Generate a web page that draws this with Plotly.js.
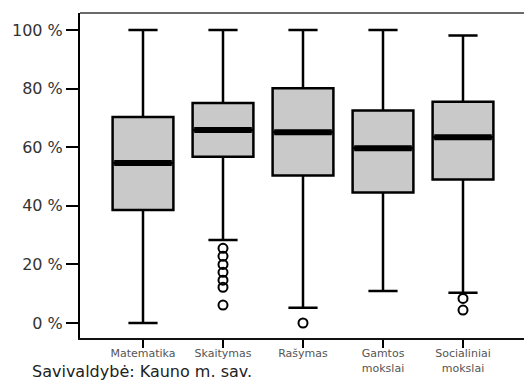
<!DOCTYPE html>
<html>
<head>
<meta charset="utf-8">
<script src="https://cdn.plot.ly/plotly-3.0.1.min.js"></script>
<style>html,body{margin:0;padding:0;background:#fff;overflow:hidden;}</style>
</head>
<body>
<div id="chart" style="width:524px;height:381px;"></div>
<script>
// Data (percent)
const categories = ["Matematika", "Skaitymas", "Rašymas", "Gamtos<br>mokslai", "Socialiniai<br>mokslai"];
const lowerWhisker = [0, 28.3, 5.2, 10.9, 10.3];
const q1 = [38.6, 56.7, 50.3, 44.5, 49.0];
const median = [54.6, 65.9, 65.1, 59.6, 63.4];
const q3 = [70.3, 75.1, 80.1, 72.5, 75.5];
const upperWhisker = [100, 100, 100, 100, 98.1];
const outlierCategory = ["Skaitymas", "Skaitymas", "Skaitymas", "Skaitymas", "Skaitymas", "Skaitymas", "Skaitymas", "Rašymas", "Socialiniai<br>mokslai", "Socialiniai<br>mokslai"];
const outlierValue = [25.5, 22.8, 20.0, 17.3, 14.6, 12.2, 6.1, 0, 8.4, 4.4];
const yTicks = [0, 20, 40, 60, 80, 100];
const yTickText = ["0 %", "20 %", "40 %", "60 %", "80 %", "100 %"];
const footnote = "Savivaldybė: Kauno m. sav.";

const boxTrace = {
  type: "box",
  x: categories,
  q1: q1,
  median: median,
  q3: q3,
  lowerfence: lowerWhisker,
  upperfence: upperWhisker,
  width: 0.76,
  whiskerwidth: 0.48,
  fillcolor: "#c9c9c9",
  line: {color: "#000", width: 2.5},
  hoverinfo: "skip",
  showlegend: false
};
const medianTrace = {
  type: "box",
  x: categories,
  q1: median,
  median: median,
  q3: median,
  lowerfence: median,
  upperfence: median,
  width: 0.72,
  fillcolor: "#000",
  line: {color: "#000", width: 6},
  hoverinfo: "skip",
  showlegend: false
};
const outlierTrace = {
  type: "scatter",
  mode: "markers",
  x: outlierCategory,
  y: outlierValue,
  marker: {symbol: "circle-open", size: 9, color: "#000", line: {width: 2, color: "#000"}},
  hoverinfo: "skip",
  showlegend: false
};

const layout = {
  width: 524,
  height: 381,
  margin: {l: 80, r: 0, t: 13, b: 43},
  paper_bgcolor: "#fff",
  plot_bgcolor: "#fff",
  boxmode: "overlay",
  showlegend: false,
  font: {family: "DejaVu Sans, sans-serif", color: "#222"},
  xaxis: {
    type: "category",
    categoryorder: "array",
    categoryarray: categories,
    range: [-0.7875, 4.7625],
    showline: true,
    mirror: false,
    linecolor: "#111",
    linewidth: 2,
    ticks: "outside",
    ticklen: 8,
    tickwidth: 2,
    tickcolor: "#000",
    ticklabelstandoff: -4,
    showgrid: false,
    zeroline: false,
    tickfont: {family: "DejaVu Sans, sans-serif", size: 11, color: "#555"}
  },
  yaxis: {
    range: [-5.12, 105.8],
    tickmode: "array",
    tickvals: yTicks,
    ticktext: yTickText,
    showline: true,
    mirror: false,
    linecolor: "#000",
    linewidth: 2,
    ticks: "outside",
    ticklen: 12,
    tickwidth: 2,
    tickcolor: "#000",
    showgrid: false,
    zeroline: false,
    tickfont: {family: "DejaVu Sans, sans-serif", size: 16, color: "#333"}
  },
  shapes: [{
    type: "line", xref: "paper", yref: "paper",
    x0: 0, x1: 1, y0: 1, y1: 1,
    line: {color: "#6a6a6a", width: 2}
  }],
  annotations: [{
    text: footnote,
    xref: "paper", yref: "paper",
    x: -0.1126, y: -0.104,
    xanchor: "left", yanchor: "middle",
    showarrow: false,
    font: {family: "DejaVu Sans, sans-serif", size: 16, color: "#222"}
  }]
};

Plotly.newPlot("chart", [boxTrace, medianTrace, outlierTrace], layout, {displayModeBar: false, staticPlot: true});
</script>
</body>
</html>
